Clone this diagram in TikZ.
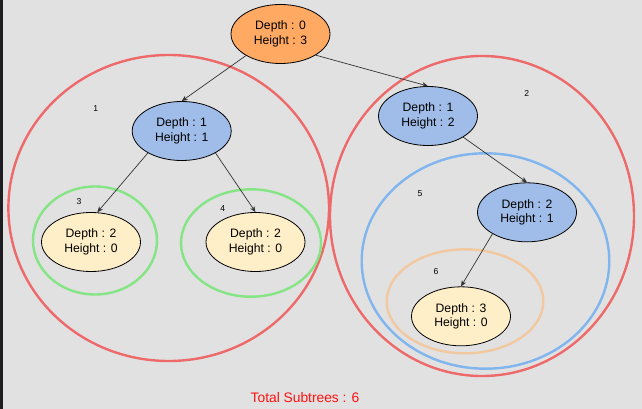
\documentclass[tikz,border=0pt]{standalone}
\usepackage{fontspec}
\setmainfont{Liberation Sans}
\usetikzlibrary{arrows.meta, positioning, shapes.geometric}
\definecolor{canvas}{HTML}{E1E1E1}
\definecolor{strip}{HTML}{1E1E22}
\definecolor{rootfill}{HTML}{FFA963}
\definecolor{midfill}{HTML}{9FBDE8}
\definecolor{leaffill}{HTML}{FFEFC8}
\definecolor{ringred}{HTML}{EE6A6A}
\definecolor{ringgreen}{HTML}{85E585}
\definecolor{ringblue}{HTML}{80B5EE}
\definecolor{ringpeach}{HTML}{F2C8A0}
\definecolor{totalred}{HTML}{FF1010}

\begin{document}
\begin{tikzpicture}[x=1pt, y=-1pt, every node/.style={align=center}]
  \tikzset{treenode/.style={ellipse, draw, line width=0.8pt, minimum width=99pt, minimum height=59pt, inner sep=0pt, font=\fontsize{12.2}{14.5}\selectfont},
    ring/.style={line width=2.4pt},
    tag/.style={font=\fontsize{8.6}{9}\selectfont},
    edge/.style={draw=black!80, line width=0.7pt, -{Stealth[length=6pt, width=5pt]}}}
  % background
  \fill[canvas] (0,0) rectangle (642,409);
  \fill[strip] (0,0) rectangle (2.5,409);
  % subtree rings
  \draw[ring, draw=ringred] (168.7,208) ellipse (160.3 and 153);
  \draw[ring, draw=ringred] (482,216) ellipse (152 and 160);
  \draw[ring, draw=ringgreen] (95,240.5) ellipse (62 and 54);
  \draw[ring, draw=ringgreen] (251,243) ellipse (70 and 53.7);
  \draw[ring, draw=ringblue] (485.5,261) ellipse (123.8 and 107.7);
  \draw[ring, draw=ringpeach] (465,301.3) ellipse (78.3 and 52);
  % tree
  \node[treenode, fill=rootfill] (root) at (280.5,34) {Depth : 0\\Height : 3};
  \node[treenode, fill=midfill] (dA) at (181.7,131) {Depth : 1\\Height : 1};
  \node[treenode, fill=midfill] (dB) at (428,116) {Depth : 1\\Height : 2};
  \node[treenode, fill=leaffill] (lA) at (91,242) {Depth : 2\\Height : 0};
  \node[treenode, fill=leaffill] (lB) at (255.5,242) {Depth : 2\\Height : 0};
  \node[treenode, fill=midfill] (dC) at (527,212.3) {Depth : 2\\Height : 1};
  \node[treenode, fill=leaffill] (lC) at (461,316.3) {Depth : 3\\Height : 0};
  \draw[edge] (root.-148) -- (dA.north);
  \draw[edge] (root.-31) -- (dB.north);
  \draw[edge] (dA.-147) -- (lA.78);
  \draw[edge] (dA.-33) -- (lB.north);
  \draw[edge] (dB.-31) -- (dC.north);
  \draw[edge] (dC.-148) -- (lC.north);
  % subtree numbers
  \node[tag] (n1) at (95.7,109) {1};
  \node[tag] (n2) at (526.7,93.3) {2};
  \node[tag] (n3) at (79,201.7) {3};
  \node[tag] (n4) at (222.7,209) {4};
  \node[tag] (n5) at (420,194) {5};
  \node[tag] (n6) at (436,271.7) {6};
  \node[text=totalred, font=\fontsize{13.8}{16}\selectfont] (total) at (305,398) {Total Subtrees : 6};
\end{tikzpicture}
\end{document}
